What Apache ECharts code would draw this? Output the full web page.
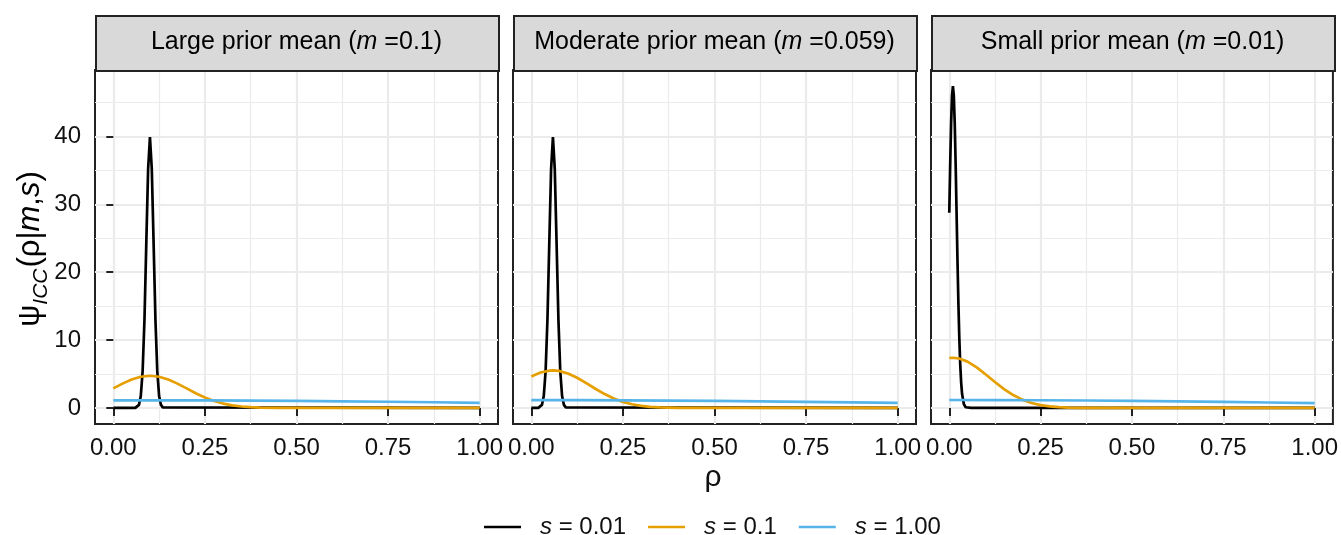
<!DOCTYPE html>
<html>
<head>
<meta charset="utf-8">
<script src="https://cdn.jsdelivr.net/npm/echarts@6/dist/echarts.min.js"></script>
<style>html,body{margin:0;padding:0;background:#fff}#c{width:1341px;height:535px}</style>
</head>
<body>
<div id="c"></div>
<script>
// ---------- data ----------
const panelTitles = [
  {pre: 'Large prior mean (', m: 'm', post: ' =0.1)'},
  {pre: 'Moderate prior mean (', m: 'm', post: ' =0.059)'},
  {pre: 'Small prior mean (', m: 'm', post: ' =0.01)'}
];
const seriesNames = ['s = 0.01', 's = 0.1', 's = 1.00'];
const seriesColors = ['#000000', '#E69F00', '#56B4E9'];

const xTickValues = [0, 0.25, 0.5, 0.75, 1];
const xTickLabels = ['0.00', '0.25', '0.50', '0.75', '1.00'];
const xMinorValues = [0.125, 0.375, 0.625, 0.875];
const yTickValues = [0, 10, 20, 30, 40];
const yTickLabels = ['0', '10', '20', '30', '40'];
const yMinorValues = [5, 15, 25, 35, 45];

// Panel 1: m = 0.1
const p1_s001_x = [0, 0.06, 0.065, 0.07, 0.075, 0.08, 0.085, 0.09, 0.095, 0.1, 0.105, 0.11, 0.115, 0.12, 0.125, 0.13, 0.135, 0.14, 1];
const p1_s001_y = [0, 0.01, 0.09, 0.44, 1.75, 5.40, 12.95, 24.19, 35.20, 39.89, 35.20, 24.19, 12.95, 5.40, 1.75, 0.44, 0.09, 0.01, 0];
const p1_s01_x = [0, 0.025, 0.05, 0.075, 0.1, 0.125, 0.15, 0.175, 0.2, 0.225, 0.25, 0.275, 0.3, 0.325, 0.35, 0.375, 0.4, 0.45, 0.5, 1];
const p1_s01_y = [2.88, 3.58, 4.18, 4.59, 4.74, 4.59, 4.18, 3.58, 2.88, 2.17, 1.54, 1.03, 0.64, 0.38, 0.21, 0.11, 0.05, 0.01, 0.002, 0];
const p1_s1_x = [0, 0.1, 0.125, 0.25, 0.375, 0.5, 0.625, 0.75, 0.875, 1];
const p1_s1_y = [1.116, 1.122, 1.121, 1.109, 1.080, 1.035, 0.977, 0.908, 0.831, 0.748];

// Panel 2: m = 0.059
const p2_s001_x = [0, 0.019, 0.024, 0.029, 0.034, 0.039, 0.044, 0.049, 0.054, 0.059, 0.064, 0.069, 0.074, 0.079, 0.084, 0.089, 0.094, 0.099, 1];
const p2_s001_y = [0, 0.01, 0.09, 0.44, 1.75, 5.40, 12.95, 24.19, 35.20, 39.89, 35.20, 24.19, 12.95, 5.40, 1.75, 0.44, 0.09, 0.01, 0];
const p2_s01_x = [0, 0.025, 0.05, 0.059, 0.075, 0.1, 0.125, 0.15, 0.175, 0.2, 0.225, 0.25, 0.275, 0.3, 0.325, 0.35, 0.4, 0.45, 1];
const p2_s01_y = [4.64, 5.21, 5.50, 5.52, 5.45, 5.07, 4.44, 3.65, 2.82, 2.04, 1.39, 0.89, 0.54, 0.30, 0.16, 0.08, 0.016, 0.002, 0];
const p2_s1_x = [0, 0.059, 0.125, 0.25, 0.375, 0.5, 0.625, 0.75, 0.875, 1];
const p2_s1_y = [1.137, 1.139, 1.137, 1.119, 1.084, 1.034, 0.971, 0.897, 0.817, 0.732];

// Panel 3: m = 0.01
const p3_s001_x = [0, 0.0025, 0.005, 0.0075, 0.01, 0.0125, 0.015, 0.0175, 0.02, 0.0225, 0.025, 0.0275, 0.03, 0.0325, 0.035, 0.04, 0.045, 0.05, 0.06, 1];
const p3_s001_y = [28.75, 35.79, 41.84, 45.95, 47.41, 45.95, 41.84, 35.79, 28.75, 21.70, 15.39, 10.25, 6.42, 3.77, 2.08, 0.53, 0.10, 0.02, 0, 0];
const p3_s01_x = [0, 0.01, 0.025, 0.05, 0.075, 0.1, 0.125, 0.15, 0.175, 0.2, 0.225, 0.25, 0.275, 0.3, 0.325, 0.35, 0.4, 1];
const p3_s01_y = [7.35, 7.39, 7.31, 6.82, 5.98, 4.93, 3.81, 2.77, 1.89, 1.22, 0.73, 0.42, 0.22, 0.11, 0.05, 0.02, 0.003, 0];
const p3_s1_x = [0, 0.125, 0.25, 0.375, 0.5, 0.625, 0.75, 0.875, 1];
const p3_s1_y = [1.164, 1.156, 1.131, 1.089, 1.032, 0.963, 0.885, 0.800, 0.713];

const panelData = [
  [[p1_s001_x, p1_s001_y], [p1_s01_x, p1_s01_y], [p1_s1_x, p1_s1_y]],
  [[p2_s001_x, p2_s001_y], [p2_s01_x, p2_s01_y], [p2_s1_x, p2_s1_y]],
  [[p3_s001_x, p3_s001_y], [p3_s01_x, p3_s01_y], [p3_s1_x, p3_s1_y]]
];

// ---------- layout ----------
const FONT = '"Liberation Sans", Arial, Helvetica, sans-serif';
const TXT = '#111';
const panelLeft = [95, 513, 931];
const panelW = 403, panelTop = 70, panelH = 354;
const stripTop = 15, stripH = 55;
const xMin = -0.05, xMax = 1.05, yMin = -2.37, yMax = 49.78;

const grids = [], xAxes = [], yAxes = [], series = [], graphics = [];
panelLeft.forEach((L, i) => {
  grids.push({left: L, top: panelTop, width: panelW, height: panelH, show: true,
    backgroundColor: '#fff', borderColor: '#222', borderWidth: 2, containLabel: false});
  xAxes.push({type: 'value', gridIndex: i, min: xMin, max: xMax, position: 'bottom',
    axisLine: {show: false},
    axisTick: {show: true, length: 8, customValues: xTickValues, lineStyle: {color: '#222', width: 2}},
    axisLabel: {show: true, customValues: xTickValues, margin: 12, fontSize: 24, fontFamily: FONT, color: TXT,
      formatter: v => { const k = xTickValues.findIndex(t => Math.abs(t - v) < 1e-9); return k >= 0 ? xTickLabels[k] : ''; },
      showMinLabel: true, showMaxLabel: true, hideOverlap: false},
    splitLine: {show: true, lineStyle: {color: '#ebebeb', width: 2.2}}
  });
  xAxes.push({type: 'value', gridIndex: i, min: xMin, max: xMax, position: 'top',
    axisLine: {show: false}, axisLabel: {show: false},
    axisTick: {show: false, customValues: xMinorValues},
    splitLine: {show: true, lineStyle: {color: '#ebebeb', width: 1.2}}
  });
  yAxes.push({type: 'value', gridIndex: i, min: yMin, max: yMax, position: 'left',
    axisLine: {show: false},
    axisTick: {show: i === 0, length: 7, customValues: yTickValues, lineStyle: {color: '#222', width: 2}},
    axisLabel: {show: i === 0, customValues: yTickValues, margin: 14, fontSize: 24, fontFamily: FONT, color: TXT,
      formatter: v => { const k = yTickValues.findIndex(t => Math.abs(t - v) < 1e-9); return k >= 0 ? yTickLabels[k] : ''; }},
    splitLine: {show: true, lineStyle: {color: '#ebebeb', width: 2.2}}
  });
  yAxes.push({type: 'value', gridIndex: i, min: yMin, max: yMax, position: 'right',
    axisLine: {show: false}, axisLabel: {show: false},
    axisTick: {show: false, customValues: yMinorValues},
    splitLine: {show: true, lineStyle: {color: '#ebebeb', width: 1.2}}
  });
  panelData[i].forEach((pair, j) => {
    series.push({type: 'line', name: seriesNames[j], xAxisIndex: 2 * i, yAxisIndex: 2 * i,
      data: pair[0].map((x, k) => [x, pair[1][k]]),
      showSymbol: false, symbol: 'none', smooth: false, animation: false,
      lineStyle: {color: seriesColors[j], width: 2.7}, itemStyle: {color: seriesColors[j]}, z: 3 + j});
  });
  graphics.push({type: 'rect', left: L, top: stripTop, silent: true, z: 10,
    shape: {width: panelW, height: stripH},
    style: {fill: '#d9d9d9', stroke: '#222', lineWidth: 2}});
  const t = panelTitles[i];
  graphics.push({type: 'text', x: L + panelW / 2, y: stripTop + stripH / 2, silent: true, z: 11,
    style: {text: '{n|' + t.pre + '}{i|' + t.m + '}{n|' + t.post + '}',
      align: 'center', verticalAlign: 'middle',
      rich: {n: {fontSize: 25, fontFamily: FONT, color: TXT},
             i: {fontSize: 25, fontFamily: FONT, fontStyle: 'italic', color: TXT}}}});
});

graphics.push({type: 'text', x: 30, y: 249, rotation: Math.PI / 2, silent: true, z: 11,
  style: {text: '{n|ψ}{sub|ICC}{n|(ρ|}{i|m}{n|,}{i|s}{n|)}', align: 'center', verticalAlign: 'middle',
    rich: {n: {fontSize: 31, fontFamily: FONT, color: TXT, lineHeight: 44},
           i: {fontSize: 31, fontFamily: FONT, fontStyle: 'italic', color: TXT, lineHeight: 44},
           sub: {fontSize: 21, fontFamily: FONT, fontStyle: 'italic', color: TXT, verticalAlign: 'bottom', lineHeight: 44, padding: [0, 1, 0, 0]}}}});
graphics.push({type: 'text', x: 713, y: 478, silent: true, z: 11,
  style: {text: 'ρ', align: 'center', verticalAlign: 'middle', fontSize: 30, fontFamily: FONT, fill: TXT}});

const chart = echarts.init(document.getElementById('c'), null, {renderer: 'canvas'});
chart.setOption({
  animation: false,
  backgroundColor: '#fff',
  grid: grids, xAxis: xAxes, yAxis: yAxes, series: series, graphic: graphics,
  legend: {left: 484, top: 515, padding: 0, icon: 'rect', itemWidth: 37, itemHeight: 2.5, itemGap: 22,
    data: seriesNames,
    formatter: name => '{sp|}{i|s}{n|' + name.slice(1) + '}',
    textStyle: {fontSize: 24, fontFamily: FONT, color: TXT,
      rich: {sp: {width: 14}, i: {fontSize: 24, fontFamily: FONT, fontStyle: 'italic', color: TXT},
             n: {fontSize: 24, fontFamily: FONT, color: TXT}}}}
});
</script>
</body>
</html>
